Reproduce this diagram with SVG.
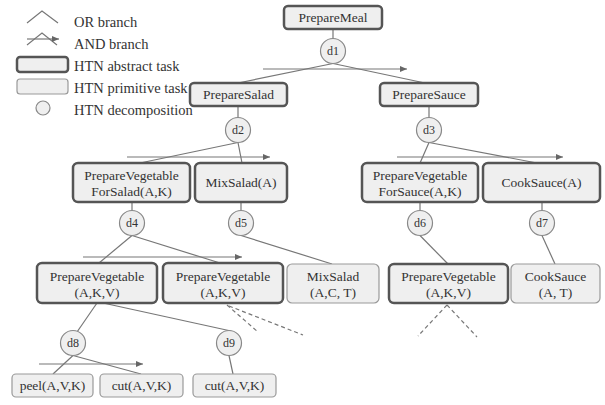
<svg xmlns="http://www.w3.org/2000/svg" width="605" height="405" viewBox="0 0 605 405">
<defs>
<marker id="ah" markerWidth="7" markerHeight="6" refX="7" refY="3" orient="auto" markerUnits="userSpaceOnUse">
<path d="M0,0 L7,3 L0,6 z" fill="#666"/>
</marker>
<style>
.abs{fill:#efefef;stroke:#555;stroke-width:2.5}
.prim{fill:#efefef;stroke:#999;stroke-width:1.2}
.dec{fill:#efefef;stroke:#888;stroke-width:1.2}
.ln{stroke:#777;stroke-width:1.2;fill:none}
.arr{stroke:#777;stroke-width:1.2;fill:none;marker-end:url(#ah)}
.dash{stroke:#777;stroke-width:1.2;fill:none;stroke-dasharray:4,3}
.t{font-size:13.5px;text-anchor:middle}
.d{font-size:12px;text-anchor:middle}
.lg{font-size:14.5px}
</style>
</defs>
<rect width="605" height="405" fill="#fff"/>
<g font-family="Liberation Serif, DejaVu Serif, serif" fill="#333">
<g id="legend">
<polyline class="ln" points="27,23 42,11 58,23"/>
<text class="lg" x="74" y="27">OR branch</text>
<polyline class="ln" points="27,45 42,33 57,45"/>
<line class="arr" x1="27" y1="39" x2="59" y2="39"/>
<text class="lg" x="74" y="49">AND branch</text>
<rect class="abs" x="17" y="57" width="51" height="15" rx="3"/>
<text class="lg" x="74" y="71">HTN abstract task</text>
<rect class="prim" x="17" y="79" width="51" height="15" rx="3"/>
<text class="lg" x="74" y="93">HTN primitive task</text>
<circle class="dec" cx="43" cy="108" r="7"/>
<text class="lg" x="74" y="115">HTN decomposition</text>
</g>

<g id="connectors">
<line class="ln" x1="333" y1="29" x2="333" y2="39"/>
<line class="ln" x1="333" y1="63.5" x2="238" y2="83"/>
<line class="ln" x1="333" y1="63.5" x2="425" y2="83"/>
<line class="arr" x1="263" y1="69" x2="407" y2="69"/>
<line class="ln" x1="238" y1="106" x2="238" y2="118"/>
<line class="ln" x1="429" y1="106" x2="429" y2="118"/>
<line class="ln" x1="238" y1="142.5" x2="140" y2="163"/>
<line class="ln" x1="238" y1="142.5" x2="242" y2="163"/>
<line class="arr" x1="127" y1="157" x2="270" y2="157"/>
<line class="ln" x1="429" y1="142.5" x2="420" y2="163"/>
<line class="ln" x1="429" y1="142.5" x2="537" y2="163"/>
<line class="arr" x1="397" y1="157" x2="563" y2="157"/>
<line class="ln" x1="132" y1="202" x2="132" y2="211"/>
<line class="ln" x1="241" y1="202" x2="241" y2="211"/>
<line class="ln" x1="420" y1="202" x2="420" y2="211"/>
<line class="ln" x1="542" y1="202" x2="542" y2="211"/>
<line class="ln" x1="132" y1="235.5" x2="99" y2="263"/>
<line class="ln" x1="132" y1="235.5" x2="220" y2="263"/>
<line class="arr" x1="83" y1="257" x2="242" y2="257"/>
<line class="ln" x1="241" y1="235.5" x2="332" y2="264"/>
<line class="ln" x1="420" y1="235.5" x2="448" y2="264"/>
<line class="ln" x1="542" y1="235.5" x2="555" y2="264"/>
<line class="ln" x1="97" y1="303" x2="77" y2="332"/>
<line class="ln" x1="103" y1="303" x2="231" y2="331"/>
<line class="ln" x1="73" y1="355.5" x2="53" y2="374"/>
<line class="ln" x1="73" y1="355.5" x2="141" y2="374"/>
<line class="arr" x1="39" y1="364" x2="143" y2="364"/>
<line class="ln" x1="229" y1="355.5" x2="233" y2="374"/>
<line class="dash" x1="227" y1="305" x2="258" y2="332"/>
<line class="dash" x1="229" y1="306" x2="303" y2="335"/>
<line class="dash" x1="447" y1="305" x2="418" y2="336"/>
<line class="dash" x1="447" y1="305" x2="477" y2="337"/>
</g>

<g id="PrepareMeal"><rect class="abs" x="284" y="6" width="98" height="23" rx="4"/><text class="t" x="333" y="22">PrepareMeal</text></g>
<g id="PrepareSalad"><rect class="abs" x="190" y="83" width="97" height="23" rx="4"/><text class="t" x="238.5" y="99">PrepareSalad</text></g>
<g id="PrepareSauce"><rect class="abs" x="380" y="83" width="98" height="23" rx="4"/><text class="t" x="429" y="99">PrepareSauce</text></g>
<g id="PrepareVegetableForSalad"><rect class="abs" x="73" y="163" width="117" height="39" rx="5"/><text class="t" x="131.5" y="180">PrepareVegetable</text><text class="t" x="131.5" y="196">ForSalad(A,K)</text></g>
<g id="MixSaladA"><rect class="abs" x="195" y="163" width="92" height="39" rx="5"/><text class="t" x="241" y="187">MixSalad(A)</text></g>
<g id="PrepareVegetableForSauce"><rect class="abs" x="362" y="163" width="116" height="39" rx="5"/><text class="t" x="420" y="180">PrepareVegetable</text><text class="t" x="420" y="196">ForSauce(A,K)</text></g>
<g id="CookSauceA"><rect class="abs" x="483" y="163" width="117" height="39" rx="5"/><text class="t" x="541.5" y="187">CookSauce(A)</text></g>
<g id="PrepareVegetable1"><rect class="abs" x="37" y="263" width="120" height="40" rx="5"/><text class="t" x="97" y="281">PrepareVegetable</text><text class="t" x="97" y="297">(A,K,V)</text></g>
<g id="PrepareVegetable2"><rect class="abs" x="163" y="263" width="120" height="40" rx="5"/><text class="t" x="223" y="281">PrepareVegetable</text><text class="t" x="223" y="297">(A,K,V)</text></g>
<g id="MixSaladACT"><rect class="prim" x="287" y="264" width="92" height="39" rx="5"/><text class="t" x="333" y="281">MixSalad</text><text class="t" x="333" y="297">(A,C, T)</text></g>
<g id="PrepareVegetable3"><rect class="abs" x="389" y="264" width="119" height="39" rx="5"/><text class="t" x="448.5" y="281">PrepareVegetable</text><text class="t" x="448.5" y="297">(A,K,V)</text></g>
<g id="CookSauceAT"><rect class="prim" x="511" y="264" width="89" height="39" rx="5"/><text class="t" x="555.5" y="281">CookSauce</text><text class="t" x="555.5" y="297">(A, T)</text></g>
<g id="peel"><rect class="prim" x="12" y="374" width="81" height="23" rx="4"/><text class="t" x="52.5" y="390">peel(A,V,K)</text></g>
<g id="cut1"><rect class="prim" x="100" y="374" width="83" height="23" rx="4"/><text class="t" x="141.5" y="390">cut(A,V,K)</text></g>
<g id="cut2"><rect class="prim" x="193" y="374" width="83" height="23" rx="4"/><text class="t" x="234.5" y="390">cut(A,V,K)</text></g>

<g id="d1"><circle class="dec" cx="333" cy="51" r="12.5"/><text class="d" x="333" y="55">d1</text></g>
<g id="d2"><circle class="dec" cx="238" cy="130" r="12.5"/><text class="d" x="238" y="134">d2</text></g>
<g id="d3"><circle class="dec" cx="429" cy="130" r="12.5"/><text class="d" x="429" y="134">d3</text></g>
<g id="d4"><circle class="dec" cx="132" cy="223" r="12.5"/><text class="d" x="132" y="227">d4</text></g>
<g id="d5"><circle class="dec" cx="241" cy="223" r="12.5"/><text class="d" x="241" y="227">d5</text></g>
<g id="d6"><circle class="dec" cx="420" cy="223" r="12.5"/><text class="d" x="420" y="227">d6</text></g>
<g id="d7"><circle class="dec" cx="542" cy="223" r="12.5"/><text class="d" x="542" y="227">d7</text></g>
<g id="d8"><circle class="dec" cx="73" cy="343" r="12.5"/><text class="d" x="73" y="347">d8</text></g>
<g id="d9"><circle class="dec" cx="229" cy="343" r="12.5"/><text class="d" x="229" y="347">d9</text></g>
</g>
</svg>
